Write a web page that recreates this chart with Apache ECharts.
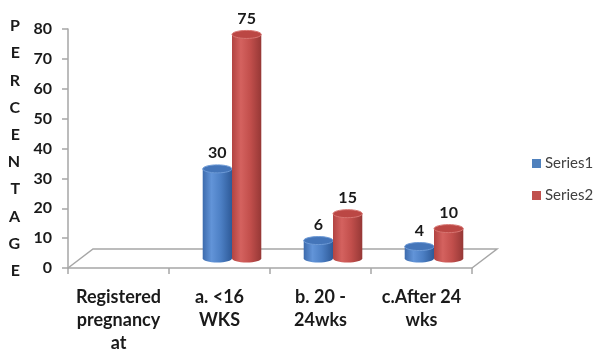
<!DOCTYPE html>
<html>
<head>
<meta charset="utf-8">
<script src="https://cdn.jsdelivr.net/npm/echarts@6/dist/echarts.min.js"></script>
<style>
  html, body { margin: 0; padding: 0; background: #ffffff; }
  #chart { width: 596px; height: 350px; }
</style>
</head>
<body>
<div id="chart"></div>
<script>
// Registration timing categories (first slot is the row heading)
const categories = ['Registered\npregnancy\nat', 'a. <16\nWKS', 'b. 20 -\n24wks', 'c.After 24\nwks'];
const seriesNames = ['Series1', 'Series2'];
const series1 = [null, 30, 6, 4];
const series2 = [null, 75, 15, 10];
const yTicks = { min: 0, max: 80, interval: 10 };
const yTitle = 'PERCENTAGE';

// Layout and look
const GRID = { left: 68, right: 124, top: 29, bottom: 82 };
const DEPTH = { dx: 25, dy: -19 };        // floor depth offset (px)
const BAR_FRAC = 0.29;                     // cylinder width as share of a category band
const ELL_RY = 4;                          // half-height of cylinder caps
const FONT = 'Lato, "Open Sans", sans-serif';
const AXIS_GRAY = '#a6a6a6';

const looks = [
  {
    body: ['#3d6bad', '#6294d8', '#4c7fc4', '#2e5a98'],
    cap: '#4475b9', capEdge: '#6d9ad6', legend: '#4f81bd'
  },
  {
    body: ['#b24442', '#d4625f', '#c24f4c', '#963836'],
    cap: '#bb4744', capEdge: '#d77571', legend: '#c0504d'
  }
];

function bodyGradient(c) {
  return new echarts.graphic.LinearGradient(0, 0, 1, 0, [
    { offset: 0, color: c[0] },
    { offset: 0.3, color: c[1] },
    { offset: 0.62, color: c[2] },
    { offset: 1, color: c[3] }
  ]);
}

function cylinderRenderer(seriesIdx) {
  const look = looks[seriesIdx];
  const side = seriesIdx === 0 ? -0.5 : 0.5;
  return function (params, api) {
    const val = api.value(1);
    if (val == null || isNaN(val)) return;
    const cat = api.value(0);
    const base = api.coord([cat, 0]);
    const top = api.coord([cat, val]);
    const band = api.size([1, 0])[0];
    const w = band * BAR_FRAC;
    const cx = base[0] + side * w + DEPTH.dx / 2;
    const by = base[1] + DEPTH.dy / 2;
    const ty = top[1] + DEPTH.dy / 2;
    const rx = w / 2;
    const grad = bodyGradient(look.body);
    return {
      type: 'group',
      children: [
        { type: 'ellipse', shape: { cx: cx, cy: by, rx: rx, ry: ELL_RY }, style: { fill: grad } },
        { type: 'rect', shape: { x: cx - rx, y: ty, width: w, height: by - ty }, style: { fill: grad } },
        { type: 'ellipse', shape: { cx: cx, cy: ty, rx: rx, ry: ELL_RY },
          style: { fill: look.cap, stroke: look.capEdge, lineWidth: 1 } },
        { type: 'text', x: cx, y: ty - 16,
          style: { text: String(val), fill: '#1a1a1a', font: 'bold 16px ' + FONT,
                   align: 'center', verticalAlign: 'middle' } }
      ]
    };
  };
}

function seriesData(values) {
  return values.map((v, i) => [i, v]);
}

const chart = echarts.init(document.getElementById('chart'), null, { renderer: 'canvas' });

chart.setOption({
  animation: false,
  backgroundColor: '#ffffff',
  grid: {
    left: GRID.left, right: GRID.right, top: GRID.top, bottom: GRID.bottom,
    containLabel: false, outerBoundsMode: 'none'
  },
  legend: {
    orient: 'vertical',
    left: 532,
    top: 156,
    padding: 0,
    itemWidth: 9,
    itemHeight: 9,
    itemGap: 17,
    icon: 'rect',
    textStyle: { fontFamily: FONT, fontSize: 15, color: '#404040', padding: [0, 0, 0, -1] },
    data: seriesNames.map((n, i) => ({ name: n, itemStyle: { color: looks[i].legend } }))
  },
  xAxis: {
    type: 'category',
    data: categories,
    boundaryGap: true,
    axisLine: { lineStyle: { color: AXIS_GRAY, width: 1.5 } },
    axisTick: { show: true, length: 6, alignWithLabel: false, lineStyle: { color: AXIS_GRAY, width: 1.5 } },
    axisLabel: {
      margin: 18,
      interval: 0,
      fontFamily: FONT, fontSize: 18, fontWeight: 'bold', color: '#1a1a1a', lineHeight: 23
    },
    splitLine: { show: false }
  },
  yAxis: {
    type: 'value',
    min: yTicks.min, max: yTicks.max, interval: yTicks.interval,
    name: yTitle.split('').join('\n'),
    nameLocation: 'middle',
    nameRotate: 0,
    nameGap: 48,
    nameTextStyle: {
      fontFamily: FONT, fontSize: 16, fontWeight: 'bold', color: '#1a1a1a',
      lineHeight: 27.2, padding: [10, 0, 0, 0]
    },
    axisLine: { show: true, lineStyle: { color: AXIS_GRAY, width: 1.5 } },
    axisTick: { show: true, length: 6, lineStyle: { color: AXIS_GRAY, width: 1.5 } },
    axisLabel: { margin: 16, fontFamily: FONT, fontSize: 16, fontWeight: 'bold', color: '#1a1a1a' },
    splitLine: { show: false }
  },
  series: [
    { name: seriesNames[0], type: 'custom', renderItem: cylinderRenderer(0), data: seriesData(series1),
      itemStyle: { color: looks[0].legend }, z: 3, encode: { x: 0, y: 1 } },
    { name: seriesNames[1], type: 'custom', renderItem: cylinderRenderer(1), data: seriesData(series2),
      itemStyle: { color: looks[1].legend }, z: 4, encode: { x: 0, y: 1 } }
  ]
});

// Floor outline of the 3D plot area, placed from the axis scales
const y0 = chart.convertToPixel({ yAxisIndex: 0 }, 0);
const xL = GRID.left;
const xR = chart.getWidth() - GRID.right;
chart.setOption({
  graphic: [{
    type: 'polyline',
    z: 1,
    silent: true,
    shape: { points: [[xL, y0], [xL + DEPTH.dx, y0 + DEPTH.dy], [xR + DEPTH.dx, y0 + DEPTH.dy], [xR, y0]] },
    style: { stroke: AXIS_GRAY, lineWidth: 1.5, fill: null }
  }]
});
</script>
</body>
</html>
